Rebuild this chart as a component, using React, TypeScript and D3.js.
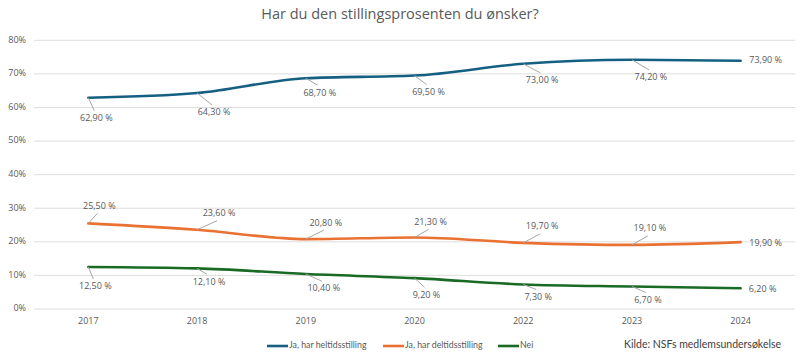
import React from "react";
import * as d3 from "d3";

const years = ["2017", "2018", "2019", "2020", "2022", "2023", "2024"];
const heltid = [62.9, 64.3, 68.7, 69.5, 73.0, 74.2, 73.9];
const deltid = [25.5, 23.6, 20.8, 21.3, 19.7, 19.1, 19.9];
const nei = [12.5, 12.1, 10.4, 9.2, 7.3, 6.7, 6.2];
const yTicks = [0, 10, 20, 30, 40, 50, 60, 70, 80];
const seriesNames = ["Ja, har heltidsstilling", "Ja, har deltidsstilling", "Nei"];
const title = "Har du den stillingsprosenten du ønsker?";
const source = "Kilde: NSFs medlemsundersøkelse";

// label offsets (layout): [dx, dy] of label centre from the point
const heltidOffsets = [[8, 21], [17, 20], [14, 15], [14, 17], [19, 17], [19, 18], [25, 0]];
const deltidOffsets = [[11, -17], [22, -16], [20, -16], [16, -15], [19, -16], [18, -16], [25, 1]];
const neiOffsets = [[7, 20], [12, 14], [18, 15], [12, 17], [15, 13], [16, 14], [22, 1]];

const colors = ["#156082", "#E97132", "#196B24"];
const FONT = "'Open Sans', sans-serif";
const FONT2 = "Lato, sans-serif";

export default function App() {
  const W = 800, H = 360;
  const x = d3.scaleBand<string>().domain(years).range([34, 795]);
  const y = d3.scaleLinear().domain([0, 80]).range([309, 40.3]);
  const cx = (yr: string) => (x(yr) as number) + x.bandwidth() / 2;
  const line = d3
    .line<number>()
    .x((_, i) => cx(years[i]))
    .y((d) => y(d))
    .curve(d3.curveMonotoneX);

  const series = [
    { name: seriesNames[0], values: heltid, offs: heltidOffsets, color: colors[0] },
    { name: seriesNames[1], values: deltid, offs: deltidOffsets, color: colors[1] },
    { name: seriesNames[2], values: nei, offs: neiOffsets, color: colors[2] },
  ];
  const fmt = (v: number) => v.toFixed(2).replace(".", ",") + " %";

  const legendX = [267, 383, 498];

  return (
    <svg width={W} height={H} style={{ position: "absolute", left: 0, top: 0, background: "#fff" }} fontFamily={FONT}>
      <rect width={W} height={H} fill="#fff" />
      <text x={400} y={15} textAnchor="middle" dominantBaseline="middle" fontSize={14.5} fill="#595959">
        {title}
      </text>
      {yTicks.map((t) => (
        <g key={t}>
          <line x1={34} x2={795} y1={y(t)} y2={y(t)} stroke="#dedede" strokeWidth={1} />
          <text x={26} y={y(t)} textAnchor="end" dominantBaseline="middle" fontSize={9} fill="#595959">
            {t}%
          </text>
        </g>
      ))}
      {years.map((yr) => (
        <text key={yr} x={cx(yr)} y={322} textAnchor="middle" dominantBaseline="middle" fontSize={9} fill="#595959">
          {yr}
        </text>
      ))}
      {series.map((s) => (
        <path key={s.name} d={line(s.values) || ""} fill="none" stroke={s.color} strokeWidth={2.6} strokeLinecap="round" />
      ))}
      {series.map((s) =>
        s.values.map((v, i) => {
          const px = cx(years[i]);
          const py = y(v);
          const [dx, dy] = s.offs[i];
          const lx = px + dx;
          const ly = py + dy;
          const showLeader = Math.abs(dy) > 8;
          const ey = dy > 0 ? ly - 8 : ly + 7;
          const ex = lx - 2;
          return (
            <g key={s.name + i}>
              {showLeader && <line x1={px} y1={py} x2={ex} y2={ey} stroke="#a6a6a6" strokeWidth={1} />}
              <text x={lx} y={ly} textAnchor="middle" dominantBaseline="middle" fontSize={9} fill="#595959">
                {fmt(v)}
              </text>
            </g>
          );
        })
      )}
      {series.map((s, i) => (
        <g key={"leg" + i}>
          <line x1={legendX[i]} x2={legendX[i] + 21} y1={346} y2={346} stroke={s.color} strokeWidth={2.6} />
          <text x={legendX[i] + 22} y={346} dominantBaseline="middle" fontSize={8.8} fill="#595959" fontFamily={FONT2}>
            {s.name}
          </text>
        </g>
      ))}
      <text x={781} y={345} textAnchor="end" dominantBaseline="middle" fontSize={10.5} fill="#404040" fontFamily={FONT2}>
        {source}
      </text>
    </svg>
  );
}
